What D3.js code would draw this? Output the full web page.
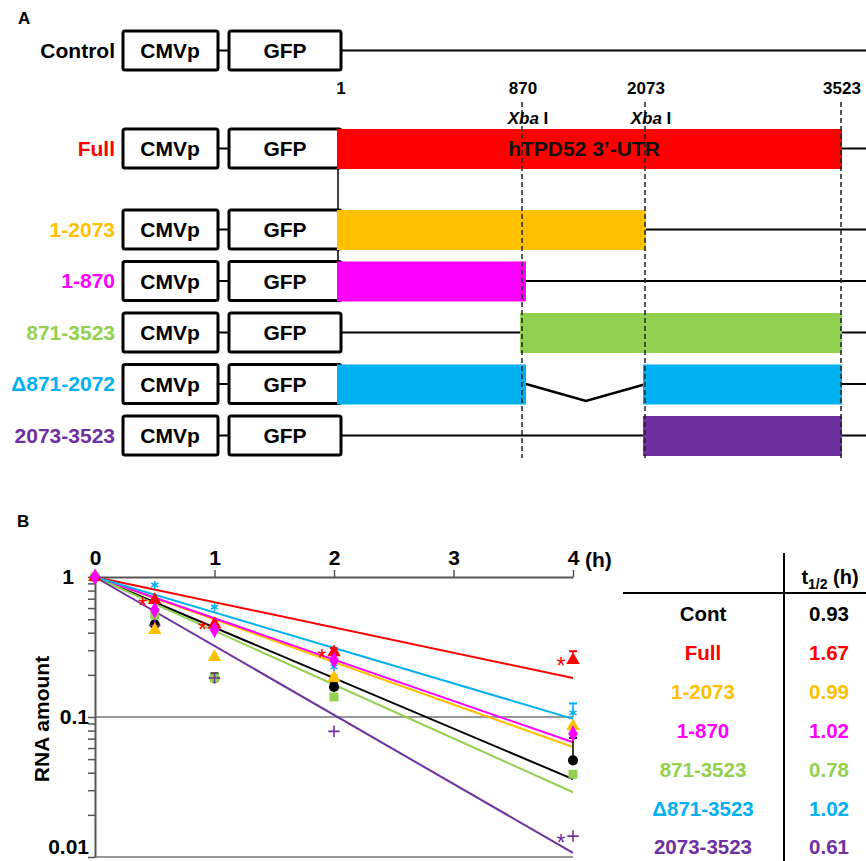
<!DOCTYPE html>
<meta charset="utf-8">
<script src="https://d3js.org/d3.v7.min.js"></script>
<style>
  body { margin: 0; background: #fff; }
  svg text { font-family: "Liberation Sans", Arial, sans-serif; font-weight: bold; }
</style>
<div id="figure"></div>
<script>
// ---- panel A data ----
var constructs = ["Control", "Full", "1-2073", "1-870", "871-3523", "\u0394871-2072", "2073-3523"];
var colors = ["#000000", "#ff0000", "#ffc000", "#ff00ff", "#92d050", "#00b0f0", "#7030a0"];
var segments = [[], [[1, 3523]], [[1, 2073]], [[1, 870]], [[871, 3523]], [[1, 870], [2073, 3523]], [[2073, 3523]]];
var siteTicks = [1, 870, 2073, 3523];
var xbaSites = [870, 2073];

// ---- panel B data ----
var times = [0, 0.5, 1, 2, 4];
var seriesNames = ["Cont", "Full", "1-2073", "1-870", "871-3523", "\u0394871-3523", "2073-3523"];
var contVals   = [1, 0.46, 0.19, 0.164, 0.049];
var fullVals   = [1, 0.685, 0.46, 0.29, 0.255];
var d2073Vals  = [1, 0.418, 0.268, 0.19, 0.086];
var d870Vals   = [1, 0.58, 0.42, 0.255, 0.076];
var d871Vals   = [1, 0.535, 0.19, 0.139, 0.039];
var deltaVals  = [1, 0.877, 0.61, 0.228, 0.107];
var d3523Vals  = [1, 0.45, 0.19, 0.079, 0.0141];
var seriesVals = [contVals, fullVals, d2073Vals, d870Vals, d871Vals, deltaVals, d3523Vals];
var errVals = [
  [0, 0, 0.015, 0.01, 0.022],
  [0, 0, 0, 0.02, 0.04],
  [0, 0, 0, 0.01, 0],
  [0, 0, 0, 0, 0],
  [0, 0, 0, 0, 0],
  [0, 0, 0, 0.02, 0.018],
  [0, 0, 0, 0, 0]
];
var fitAt4 = [0.036, 0.19, 0.061, 0.066, 0.029, 0.097, 0.0107];
var halfLives = ["0.93", "1.67", "0.99", "1.02", "0.78", "1.02", "0.61"];
var sigFull = [0.5, 1, 2, 4];
var sigPurple = [4];

var svg = d3.select("#figure").append("svg")
  .attr("width", 866).attr("height", 861);

// ================= Panel A =================
var gA = svg.append("g");
gA.append("text").attr("x", 18).attr("y", 24).style("font-size", "17px").text("A");

var pos = d3.scaleLinear().domain([1, 870, 2073, 3523]).range([338, 523, 646, 842]);
var rowTop = function(i) { return i === 0 ? 31 : i === 1 ? 129 : 210 + (i - 2) * 51.5; };
var boxH = 39;

constructs.forEach(function(name, i) {
  var top = rowTop(i), cy = top + boxH / 2;
  var g = gA.append("g");
  var segs = segments[i];
  // backbone
  if (segs.length === 0) {
    g.append("line").attr("x1", 341).attr("x2", 866).attr("y1", cy).attr("y2", cy)
      .attr("stroke", "#000").attr("stroke-width", 2);
  } else {
    var first = pos(segs[0][0]), last = pos(segs[segs.length - 1][1]);
    if (first > 342) g.append("line").attr("x1", 341).attr("x2", first).attr("y1", cy).attr("y2", cy)
      .attr("stroke", "#000").attr("stroke-width", 2);
    g.append("line").attr("x1", last).attr("x2", 866).attr("y1", cy).attr("y2", cy)
      .attr("stroke", "#000").attr("stroke-width", 2);
    for (var k = 1; k < segs.length; k++) {
      var a = pos(segs[k - 1][1]) + 3, b = pos(segs[k][0]);
      g.append("path").attr("d", "M" + a + "," + cy + "L" + (a + b) / 2 + "," + (cy + 17) + "L" + b + "," + cy)
        .attr("fill", "none").attr("stroke", "#000").attr("stroke-width", 2.5);
    }
  }
  // label
  g.append("text").attr("x", 115).attr("y", cy).attr("text-anchor", "end").attr("dy", "0.35em")
    .style("font-size", "21px").attr("fill", colors[i]).text(name);
  // CMVp / GFP boxes
  g.append("line").attr("x1", 218).attr("x2", 228).attr("y1", cy).attr("y2", cy)
    .attr("stroke", "#000").attr("stroke-width", 2);
  g.append("rect").attr("x", 123).attr("y", top).attr("width", 95).attr("height", boxH).attr("rx", 2)
    .attr("fill", "#fff").attr("stroke", "#000").attr("stroke-width", 3);
  g.append("rect").attr("x", 229).attr("y", top).attr("width", 112).attr("height", boxH).attr("rx", 2)
    .attr("fill", "#fff").attr("stroke", "#000").attr("stroke-width", 3);
  g.append("text").attr("x", 170).attr("y", cy).attr("dy", "0.36em").attr("text-anchor", "middle")
    .style("font-size", "21px").text("CMVp");
  g.append("text").attr("x", 285).attr("y", cy).attr("dy", "0.36em").attr("text-anchor", "middle")
    .style("font-size", "21px").text("GFP");
  // UTR bars
  segs.forEach(function(s) {
    var x0 = s[0] === 1 ? pos(s[0]) - 1 : pos(s[0]) - 3;
    var x1 = s[1] === 870 ? pos(s[1]) + 3 : pos(s[1]);
    g.append("rect").attr("x", x0).attr("y", top).attr("width", x1 - x0).attr("height", boxH + 1)
      .attr("fill", colors[i]);
  });
});

// thin link between Full and the deletion rows
gA.append("line").attr("x1", 338).attr("x2", 338).attr("y1", rowTop(1) + boxH).attr("y2", rowTop(3))
  .attr("stroke", "#000").attr("stroke-width", 1.5).lower();

gA.append("text").attr("x", (pos(1) + pos(3523)) / 2 - 6).attr("y", rowTop(1) + boxH / 2).attr("dy", "0.36em")
  .attr("text-anchor", "middle").style("font-size", "21px").attr("fill", "#111")
  .text("hTPD52 3\u2019-UTR");

// position numbers
gA.selectAll(".site").data(siteTicks).enter().append("text")
  .attr("x", function(d) { return pos(d) + (d === 1 ? 3 : 0); }).attr("y", 94)
  .attr("text-anchor", "middle").style("font-size", "17px").text(function(d) { return d; });

// dashed guides
gA.selectAll(".guide").data([870, 2073, 3523]).enter().append("line")
  .attr("x1", function(d) { return pos(d) - 1; }).attr("x2", function(d) { return pos(d) - 1; })
  .attr("y1", 102).attr("y2", 458)
  .attr("stroke", "#222").attr("stroke-width", 1.5).attr("stroke-dasharray", "5,3");

// Xba I labels
xbaSites.forEach(function(d) {
  var t = gA.append("text").attr("x", pos(d) + 5).attr("y", 124).attr("text-anchor", "middle")
    .style("font-size", "17px");
  t.append("tspan").style("font-style", "italic").text("Xba");
  t.append("tspan").text(" I");
});

// ================= Panel B =================
var gB = svg.append("g");
gB.append("text").attr("x", 17).attr("y", 527).style("font-size", "17px").text("B");

var x = d3.scaleLinear().domain([0, 4]).range([95, 573]);
var y = d3.scaleLog().domain([0.01, 1]).range([857, 577]);

// grid lines at 0.1 and 0.01
gB.selectAll(".grid").data([0.1, 0.01]).enter().append("line")
  .attr("x1", x(0)).attr("x2", x(4))
  .attr("y1", function(d) { return y(d); }).attr("y2", function(d) { return y(d); })
  .attr("stroke", "#999").attr("stroke-width", 2);

var xAxis = gB.append("g").attr("transform", "translate(0," + y(1) + ")")
  .call(d3.axisTop(x).ticks(4).tickSize(7).tickSizeOuter(0).tickPadding(5).tickFormat(d3.format("d")));
xAxis.select(".domain").attr("stroke", "#555").attr("stroke-width", 2);
xAxis.selectAll(".tick line").attr("stroke", "#555").attr("stroke-width", 1.5);
xAxis.selectAll("text").style("font-size", "21px").attr("fill", "#000");

gB.append("text").attr("x", 585).attr("y", 567).style("font-size", "21px").text("(h)");

var yTicks = [];
[0.01, 0.1].forEach(function(base) { for (var m = 1; m < 10; m++) yTicks.push(base * m); });
yTicks.push(1);
var yAxis = gB.append("g").attr("transform", "translate(" + x(0) + ",0)")
  .call(d3.axisLeft(y).tickValues(yTicks).tickSize(7).tickSizeOuter(0).tickPadding(4)
    .tickFormat(function(d) {
      var l = Math.log10(d);
      return Math.abs(l - Math.round(l)) < 1e-9 ? (d === 1 ? "1" : d3.format(".2~f")(d)) : "";
    }));
yAxis.select(".domain").attr("stroke", "#555").attr("stroke-width", 2);
yAxis.selectAll(".tick line").attr("stroke", "#555").attr("stroke-width", 1.5);
yAxis.selectAll("text").style("font-size", "21px").attr("fill", "#000")
  .attr("dx", function(d) { return d === 1 ? "-10px" : "5px"; })
  .attr("dy", function(d) { return d === 0.01 ? "-0.15em" : "0.32em"; });

gB.append("text").attr("transform", "translate(49,719) rotate(-90)").attr("text-anchor", "middle")
  .style("font-size", "21px").text("RNA amount");

// fitted decay lines
seriesNames.forEach(function(s, i) {
  gB.append("line").attr("x1", x(0)).attr("y1", y(1)).attr("x2", x(4)).attr("y2", y(fitAt4[i]))
    .attr("stroke", colors[i]).attr("stroke-width", 2);
});

// error bars (upper) + markers
var symbolTypes = [d3.symbolCircle, d3.symbolTriangle, d3.symbolTriangle, d3.symbolDiamond,
                   d3.symbolSquare, d3.symbolAsterisk, d3.symbolPlus];
var strokeOnly = [false, false, false, false, false, true, true];
var drawOrder = [0, 4, 6, 2, 5, 1, 3];
drawOrder.forEach(function(i) {
  var pts = times.map(function(t, j) { return {t: t, v: seriesVals[i][j], e: errVals[i][j]}; });
  var g = gB.append("g");
  pts.filter(function(p) { return p.e > 0; }).forEach(function(p) {
    var yt = y(p.v + p.e), yb = y(p.v);
    g.append("line").attr("x1", x(p.t)).attr("x2", x(p.t)).attr("y1", yt).attr("y2", yb)
      .attr("stroke", colors[i]).attr("stroke-width", 1.5);
    g.append("line").attr("x1", x(p.t) - 4).attr("x2", x(p.t) + 4).attr("y1", yt).attr("y2", yt)
      .attr("stroke", colors[i]).attr("stroke-width", 2);
  });
  g.selectAll("path").data(pts).enter().append("path")
    .attr("transform", function(p) { return "translate(" + x(p.t) + "," + y(p.v) + ")"; })
    .attr("d", d3.symbol().type(symbolTypes[i]).size(strokeOnly[i] ? 45 : 80))
    .attr("fill", strokeOnly[i] ? "none" : colors[i])
    .attr("stroke", colors[i]).attr("stroke-width", strokeOnly[i] ? 1.6 : 0);
});

// significance stars
function addStars(list, vals, color, dy) {
  list.forEach(function(t) {
    var j = times.indexOf(t);
    gB.append("text").attr("x", x(t) - 12).attr("y", y(vals[j])).attr("dy", dy)
      .attr("text-anchor", "middle").style("font-size", "23px").style("font-weight", "normal")
      .attr("fill", color).text("*");
  });
}
addStars(sigFull, fullVals, colors[1], "0.6em");
addStars(sigPurple, d3523Vals, colors[6], "0.65em");

// ================= half-life table =================
var gT = svg.append("g");
var rowY = d3.scalePoint().domain(seriesNames).range([614, 847]);
gT.append("line").attr("x1", 784).attr("x2", 784).attr("y1", 553).attr("y2", 861)
  .attr("stroke", "#000").attr("stroke-width", 2);
gT.append("line").attr("x1", 623).attr("x2", 866).attr("y1", 593).attr("y2", 593)
  .attr("stroke", "#000").attr("stroke-width", 2);
var hdr = gT.append("text").attr("x", 830).attr("y", 584).attr("text-anchor", "middle").style("font-size", "20px");
hdr.append("tspan").text("t");
hdr.append("tspan").attr("dy", 5).style("font-size", "14px").text("1/2");
hdr.append("tspan").attr("dy", -5).text(" (h)");

seriesNames.forEach(function(s, i) {
  gT.append("text").attr("x", 703).attr("y", rowY(s)).attr("dy", "0.36em").attr("text-anchor", "middle")
    .style("font-size", "20.5px").attr("fill", colors[i]).text(s);
  gT.append("text").attr("x", 829).attr("y", rowY(s)).attr("dy", "0.36em").attr("text-anchor", "middle")
    .style("font-size", "20.5px").attr("fill", colors[i]).text(halfLives[i]);
});
</script>
